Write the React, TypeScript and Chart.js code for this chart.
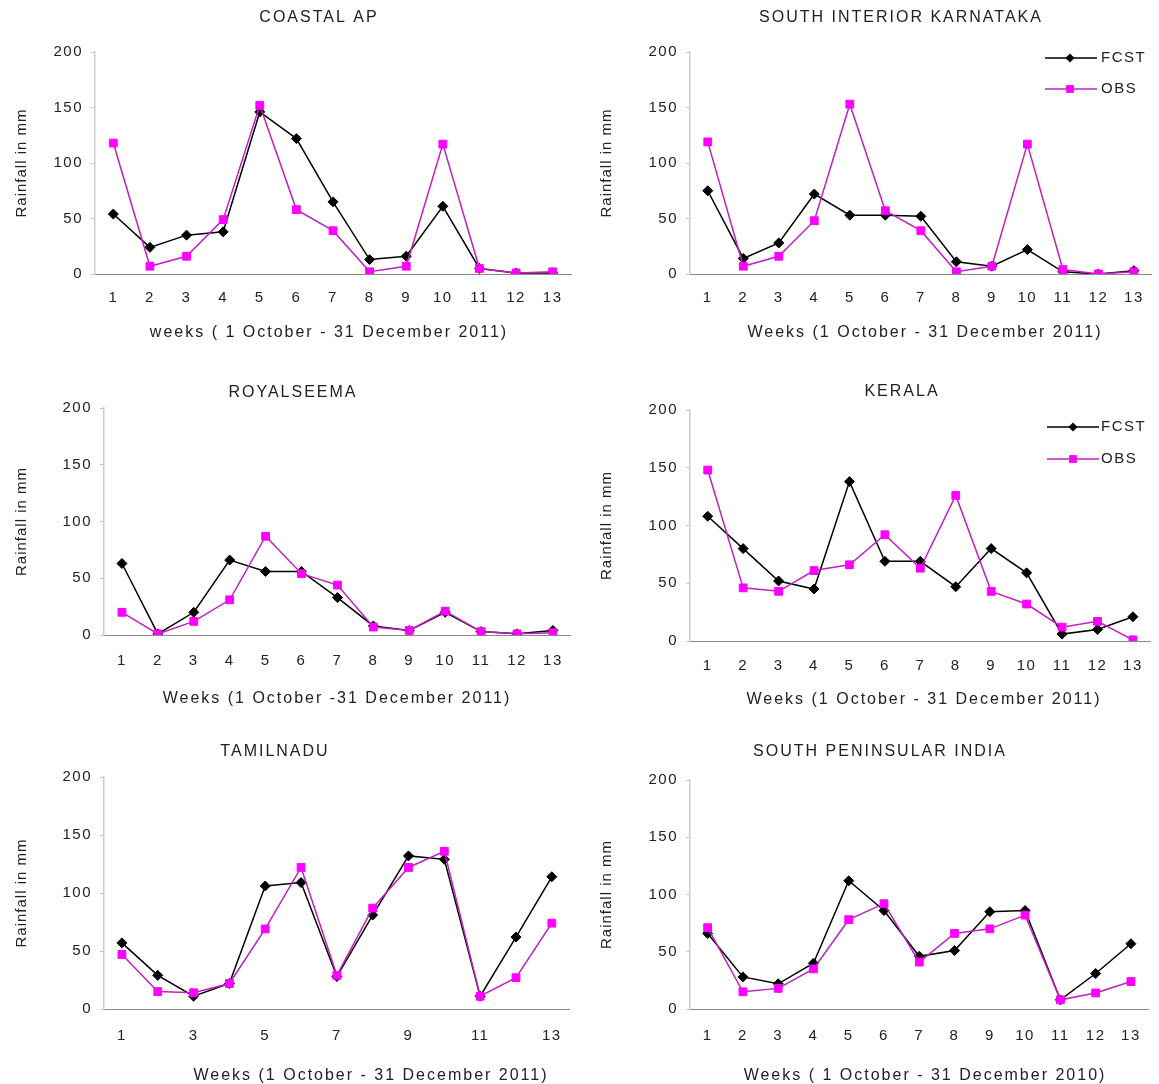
import React, { useEffect, useRef } from 'react';
import { Chart, registerables } from 'chart.js';

Chart.register(...registerables);

// ---------- data ----------
const weeks = ['1', '2', '3', '4', '5', '6', '7', '8', '9', '10', '11', '12', '13'];
const yTicks = [0, 50, 100, 150, 200];

const coastalFcst = [54, 24, 35, 38, 146, 122, 65, 13, 16, 61, 5, 1, 1];
const coastalObs = [118, 7, 16, 49, 152, 58, 39, 2, 7, 117, 5, 1, 2];

const sikFcst = [75, 14, 28, 72, 53, 53, 52, 11, 7, 22, 2, 0, 3];
const sikObs = [119, 7, 16, 48, 153, 57, 39, 2, 7, 117, 4, 0, 2];

const rayFcst = [63, 1, 20, 66, 56, 56, 33, 8, 4, 20, 3, 1, 4];
const rayObs = [20, 1, 12, 31, 87, 54, 44, 7, 4, 21, 3, 1, 2];

const keralaFcst = [108, 80, 52, 45, 138, 69, 69, 47, 80, 59, 6, 10, 21];
const keralaObs = [148, 46, 43, 61, 66, 92, 63, 126, 43, 32, 12, 17, 1];

const tnFcst = [57, 29, 11, 22, 106, 109, 28, 81, 132, 129, 11, 62, 114];
const tnObs = [47, 15, 14, 22, 69, 122, 29, 87, 122, 136, 11, 27, 74];

const spiFcst = [66, 28, 22, 40, 112, 86, 46, 51, 85, 86, 8, 31, 57];
const spiObs = [71, 15, 18, 35, 78, 92, 41, 66, 70, 82, 8, 14, 24];

const seriesNames = ['FCST', 'OBS'];
const yAxisTitle = 'Rainfall in mm';

// ---------- styling ----------
const FONT = "'Liberation Sans', Arial, Helvetica, sans-serif";
const TEXT = '#222222';
const FCST_COLOR = '#000000';
const OBS_LINE = '#c020c0';
const OBS_POINT = '#ff00ff';
const TICK_SIZE = 15;
const TICK_LS = '1.5px';

type Legend = { x1: number; x2: number; mx: number; tx: number; y1: number; y2: number };
type PanelCfg = {
  title: string;
  xTitle: string;
  fcst: number[];
  obs: number[];
  box: { left: number; top: number; width: number; height: number };
  area: { l: number; r: number; t: number; b: number };
  yTitleX: number;
  titleX: number;
  titleY: number;
  xLabelY: number;
  xTitleX: number;
  xTitleY: number;
  legend?: Legend;
  oddOnly?: boolean;
};

const panels: PanelCfg[] = [
  {
    title: 'COASTAL AP', xTitle: 'weeks ( 1 October - 31 December 2011)',
    fcst: coastalFcst, obs: coastalObs,
    box: { left: 0, top: 0, width: 580, height: 360 },
    area: { l: 95, r: 571, t: 52, b: 274 },
    yTitleX: 22, titleX: 319, titleY: 18, xLabelY: 298, xTitleX: 329, xTitleY: 333,
  },
  {
    title: 'SOUTH INTERIOR KARNATAKA', xTitle: 'Weeks (1 October - 31 December 2011)',
    fcst: sikFcst, obs: sikObs,
    box: { left: 580, top: 0, width: 579, height: 360 },
    area: { l: 690, r: 1156, t: 52, b: 274 },
    yTitleX: 607, titleX: 901, titleY: 18, xLabelY: 298, xTitleX: 925, xTitleY: 333,
    legend: { x1: 1045, x2: 1097, mx: 1070, tx: 1101, y1: 58, y2: 89 },
  },
  {
    title: 'ROYALSEEMA', xTitle: 'Weeks (1 October -31 December 2011)',
    fcst: rayFcst, obs: rayObs,
    box: { left: 0, top: 360, width: 580, height: 360 },
    area: { l: 104, r: 573, t: 408, b: 635 },
    yTitleX: 22, titleX: 293, titleY: 393, xLabelY: 661, xTitleX: 337, xTitleY: 699,
  },
  {
    title: 'KERALA', xTitle: 'Weeks (1 October - 31 December 2011)',
    fcst: keralaFcst, obs: keralaObs,
    box: { left: 580, top: 360, width: 579, height: 360 },
    area: { l: 690, r: 1158, t: 410, b: 641 },
    yTitleX: 607, titleX: 902, titleY: 392, xLabelY: 666, xTitleX: 924, xTitleY: 700,
    legend: { x1: 1047, x2: 1099, mx: 1073, tx: 1101, y1: 427, y2: 459 },
  },
  {
    title: 'TAMILNADU', xTitle: 'Weeks (1 October - 31 December 2011)',
    fcst: tnFcst, obs: tnObs,
    box: { left: 0, top: 720, width: 580, height: 364 },
    area: { l: 104, r: 571, t: 777, b: 1009 },
    yTitleX: 22, titleX: 275, titleY: 752, xLabelY: 1036, xTitleX: 371, xTitleY: 1076,
    oddOnly: true,
  },
  {
    title: 'SOUTH PENINSULAR INDIA', xTitle: 'Weeks ( 1 October - 31 December 2010)',
    fcst: spiFcst, obs: spiObs,
    box: { left: 580, top: 720, width: 579, height: 364 },
    area: { l: 690, r: 1156, t: 780, b: 1009 },
    yTitleX: 607, titleX: 880, titleY: 752, xLabelY: 1036, xTitleX: 925, xTitleY: 1076,
  },
];

const spacingPlugin = {
  id: 'letterSpacing',
  beforeLayout(chart: any) { (chart.ctx as any).letterSpacing = TICK_LS; },
  beforeDraw(chart: any) { (chart.ctx as any).letterSpacing = TICK_LS; },
};

function drawText(
  ctx: CanvasRenderingContext2D, text: string, x: number, y: number,
  size: number, ls: string, rotate = 0,
) {
  ctx.save();
  (ctx as any).letterSpacing = ls;
  ctx.font = `${size}px ${FONT}`;
  ctx.fillStyle = TEXT;
  ctx.textAlign = 'center';
  ctx.textBaseline = 'middle';
  ctx.translate(x, y);
  if (rotate) ctx.rotate(rotate);
  ctx.fillText(text, 0, 0);
  ctx.restore();
}

function makeTextPlugin(p: PanelCfg) {
  return {
    id: 'panelText',
    afterDraw(chart: any) {
      const ctx = chart.ctx as CanvasRenderingContext2D;
      const ox = p.box.left;
      const oy = p.box.top;
      const ca = chart.chartArea;
      // chart title
      drawText(ctx, p.title, p.titleX - ox, p.titleY - oy, 16, '2px');
      // x axis title
      drawText(ctx, p.xTitle, p.xTitleX - ox, p.xTitleY - oy, 16, '2px');
      // y axis title
      drawText(ctx, yAxisTitle, p.yTitleX - ox, (ca.top + ca.bottom) / 2, 15, '1px', -Math.PI / 2);

      if (!p.legend) return;
      const lg = p.legend;
      const entries = [
        { name: seriesNames[0], y: lg.y1, line: FCST_COLOR, point: FCST_COLOR, style: 'rectRot', r: 4.5 },
        { name: seriesNames[1], y: lg.y2, line: OBS_LINE, point: OBS_POINT, style: 'rect', r: 5.5 },
      ];
      ctx.save();
      (ctx as any).letterSpacing = TICK_LS;
      entries.forEach((e) => {
        const y = e.y - oy;
        ctx.strokeStyle = e.line;
        ctx.lineWidth = 1.5;
        ctx.beginPath();
        ctx.moveTo(lg.x1 - ox, y);
        ctx.lineTo(lg.x2 - ox, y);
        ctx.stroke();
        ctx.fillStyle = e.point;
        ctx.beginPath();
        if (e.style === 'rect') {
          const s = e.r * Math.SQRT1_2;
          ctx.rect(lg.mx - ox - s, y - s, 2 * s, 2 * s);
        } else {
          const r = e.r;
          const cx = lg.mx - ox;
          ctx.moveTo(cx, y - r);
          ctx.lineTo(cx + r, y);
          ctx.lineTo(cx, y + r);
          ctx.lineTo(cx - r, y);
          ctx.closePath();
        }
        ctx.fill();
        ctx.fillStyle = TEXT;
        ctx.font = `${TICK_SIZE}px ${FONT}`;
        ctx.textAlign = 'left';
        ctx.textBaseline = 'middle';
        ctx.fillText(e.name, lg.tx - ox, y);
      });
      ctx.restore();
    },
  };
}

function buildConfig(p: PanelCfg): any {
  const tickLH = TICK_SIZE * 1.2;
  const { box, area } = p;
  const padL = 4;
  const yW = area.l - box.left - padL;
  const padR = box.left + box.width - area.r;
  const padT = area.t - box.top;
  const xH = box.top + box.height - area.b - 4;
  const padB = 4;
  const xPad = p.xLabelY - area.b - tickLH / 2;

  const tickFont = { family: FONT, size: TICK_SIZE };

  return {
    type: 'line',
    data: {
      labels: weeks,
      datasets: [
        {
          label: seriesNames[0],
          data: p.fcst,
          borderColor: FCST_COLOR,
          backgroundColor: FCST_COLOR,
          borderWidth: 1.5,
          pointStyle: 'rectRot',
          pointRadius: 5,
          pointBackgroundColor: FCST_COLOR,
          pointBorderColor: FCST_COLOR,
          pointBorderWidth: 1,
          tension: 0,
          order: 2,
        },
        {
          label: seriesNames[1],
          data: p.obs,
          borderColor: OBS_LINE,
          backgroundColor: OBS_POINT,
          borderWidth: 1.5,
          pointStyle: 'rect',
          pointRadius: 5.5,
          pointBackgroundColor: OBS_POINT,
          pointBorderColor: OBS_POINT,
          pointBorderWidth: 1,
          tension: 0,
          order: 1,
        },
      ],
    },
    options: {
      animation: false,
      responsive: false,
      devicePixelRatio: 1,
      layout: { padding: { left: padL, right: padR, top: padT, bottom: padB } },
      plugins: {
        legend: { display: false },
        tooltip: { enabled: false },
        title: { display: false },
      },
      scales: {
        x: {
          type: 'category',
          offset: true,
          afterFit: (s: any) => { s.height = xH; },
          grid: { display: false, drawTicks: false },
          border: { display: true, color: '#8a8a8a', width: 1 },
          ticks: {
            padding: xPad,
            color: TEXT,
            font: tickFont,
            autoSkip: false,
            maxRotation: 0,
            callback: (_v: any, i: number) => (p.oddOnly && i % 2 === 1 ? '' : weeks[i]),
          },
          title: { display: false },
        },
        y: {
          min: yTicks[0],
          max: yTicks[yTicks.length - 1],
          afterFit: (s: any) => { s.width = yW; },
          afterBuildTicks: (s: any) => { s.ticks = yTicks.map((v) => ({ value: v })); },
          grid: { display: true, drawOnChartArea: false, drawTicks: true, tickLength: 4, color: '#c4c4c4' },
          border: { display: true, color: '#cccccc', width: 1.5 },
          ticks: { padding: 8, color: TEXT, font: tickFont },
          title: { display: false },
        },
      },
    },
    plugins: [spacingPlugin, makeTextPlugin(p)],
  };
}

function Panel({ p }: { p: PanelCfg }) {
  const ref = useRef<HTMLCanvasElement | null>(null);
  useEffect(() => {
    if (!ref.current) return;
    const chart = new Chart(ref.current, buildConfig(p));
    return () => chart.destroy();
  }, [p]);
  return (
    <canvas
      ref={ref}
      width={p.box.width}
      height={p.box.height}
      style={{
        position: 'absolute',
        left: p.box.left,
        top: p.box.top,
        width: p.box.width,
        height: p.box.height,
      }}
    />
  );
}

export default function App() {
  return (
    <div
      style={{
        position: 'absolute',
        left: 0,
        top: 0,
        width: 1159,
        height: 1084,
        background: '#ffffff',
        overflow: 'hidden',
      }}
    >
      {panels.map((p) => (
        <Panel key={p.title} p={p} />
      ))}
    </div>
  );
}
